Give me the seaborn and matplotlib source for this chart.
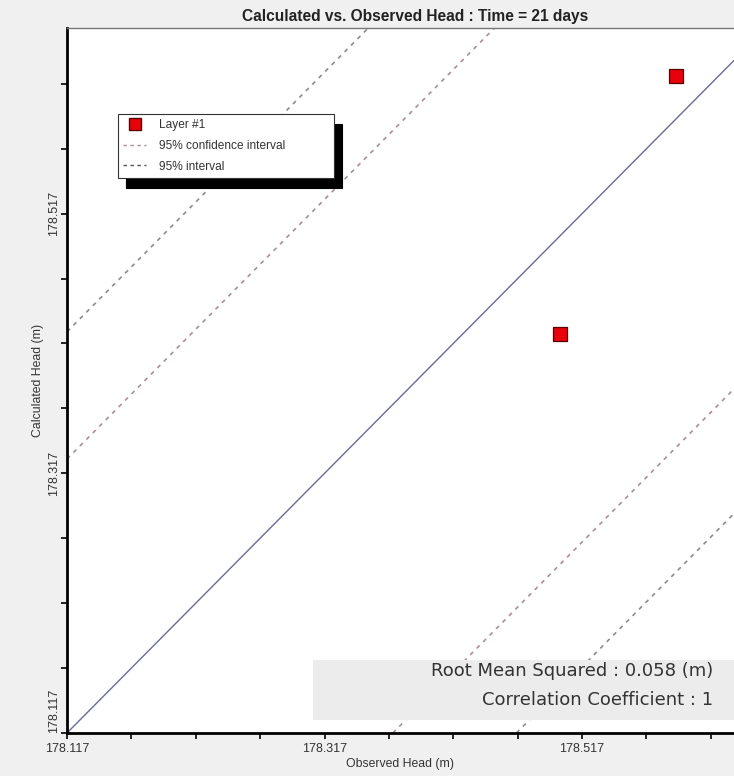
import numpy as np
import pandas as pd
import matplotlib
matplotlib.use("Agg")
import matplotlib.pyplot as plt
import seaborn as sns
from matplotlib.lines import Line2D
from matplotlib.ticker import FixedLocator

# observed vs calculated heads (m)
observed = [178.500, 178.590]
calculated = [178.4245, 178.623]
layer_names = ["Layer #1", "Layer #1"]

# offsets of the interval lines from the 1:1 line
conf_offsets = [0.211, -0.253]
interval_offsets = [0.309, -0.349]

major_ticks = [178.117, 178.317, 178.517]
x_limits = (178.117, 178.635)
y_limits = (178.117, 178.660)

rms_text = "Root Mean Squared : 0.058 (m)"
corr_text = "Correlation Coefficient : 1"

sns.set_style("white")
plt.rcParams["font.family"] = ["Liberation Sans", "DejaVu Sans"]

df = pd.DataFrame({"Observed": observed, "Calculated": calculated, "Layer": layer_names})

fig = plt.figure(figsize=(7.34, 7.76), dpi=100, facecolor="#f0f0f0")
ax = fig.add_axes([67 / 734, 43 / 776, 667 / 734, 705 / 776])
ax.set_facecolor("white")

# 1:1 line and interval lines
ax.axline((x_limits[0], x_limits[0]), slope=1, color="#6a6a9a", lw=1.0, zorder=2)
for off in conf_offsets:
    ax.axline((x_limits[0], x_limits[0] + off), slope=1, color="#a88f9c",
              lw=1.2, ls=(0, (2.5, 3)), zorder=2)
for off in interval_offsets:
    ax.axline((x_limits[0], x_limits[0] + off), slope=1, color="#8c8c8c",
              lw=1.2, ls=(0, (2.5, 3)), zorder=2)

sns.scatterplot(data=df, x="Observed", y="Calculated", ax=ax, marker="s", s=90,
                color="#e8000b", edgecolor="#5a0000", linewidth=0.9, legend=False, zorder=4)

ax.set_xlim(*x_limits)
ax.set_ylim(*y_limits)

ax.xaxis.set_major_locator(FixedLocator(major_ticks))
ax.yaxis.set_major_locator(FixedLocator(major_ticks))
ax.xaxis.set_minor_locator(FixedLocator(np.arange(178.117, 178.66, 0.05)))
ax.yaxis.set_minor_locator(FixedLocator(np.arange(178.117, 178.67, 0.05)))
ax.set_xticklabels([f"{t:.3f}" for t in major_ticks], fontsize=9, color="#333333")
ax.set_yticklabels([f"{t:.3f}" for t in major_ticks], fontsize=9, color="#333333",
                   rotation=90, va="center")
ax.get_yticklabels()[0].set_va("bottom")
ax.tick_params(which="both", direction="out", length=4, width=1.2, color="black",
               bottom=True, left=True)
ax.tick_params(axis="y", pad=1)
ax.tick_params(axis="x", pad=3)

ax.spines["right"].set_visible(False)
ax.spines["left"].set_linewidth(2)
ax.spines["bottom"].set_linewidth(2)
ax.spines["left"].set_color("black")
ax.spines["bottom"].set_color("black")
ax.spines["top"].set_linewidth(1)
ax.spines["top"].set_color("#777777")

ax.set_xlabel("Observed Head (m)", fontsize=8.8, color="#333333", labelpad=2)
ax.set_ylabel("Calculated Head (m)", fontsize=8.8, color="#333333", labelpad=3)
ax.set_title("Calculated vs. Observed Head : Time = 21 days", fontsize=11.2,
             fontweight="bold", color="#222222", pad=5, x=(415 - 67) / 667)

# legend with a hard black shadow
handles = [
    Line2D([], [], ls="none", marker="s", markersize=8, markerfacecolor="#e8000b",
           markeredgecolor="#5a0000", label="Layer #1"),
    Line2D([], [], color="#a88f9c", lw=1, ls=(0, (2.5, 2.5)), label="95% confidence interval"),
    Line2D([], [], color="#555555", lw=1, ls=(0, (2.5, 2.5)), label="95% interval"),
]
leg = ax.legend(handles=handles, loc="upper left", mode="expand",
                bbox_to_anchor=((118 - 67) / 667, (733 - 114) / 705, 216 / 667, 0.0),
                fontsize=8.6, frameon=True, fancybox=False, handlelength=1.9,
                borderpad=0.45, labelspacing=0.72, handletextpad=1.1,
                borderaxespad=0.0,
                shadow={"color": "black", "alpha": 1, "ox": 6, "oy": -7})
leg.get_frame().set_edgecolor("#333333")
leg.get_frame().set_linewidth(0.8)
for t in leg.get_texts():
    t.set_color("#333333")

# statistics box
ax.add_patch(plt.Rectangle(((313 - 67) / 667, 13 / 705), (734 - 313) / 667, 60 / 705,
                           transform=ax.transAxes, facecolor="#ececec",
                           edgecolor="none", zorder=5))
ax.text(0.969, 0.088, rms_text, transform=ax.transAxes, ha="right", va="center",
        fontsize=13, family="DejaVu Sans", color="#333333", zorder=6)
ax.text(0.969, 0.047, corr_text, transform=ax.transAxes, ha="right", va="center",
        fontsize=13, family="DejaVu Sans", color="#333333", zorder=6)

fig.savefig("out.png", dpi=100, facecolor=fig.get_facecolor())
